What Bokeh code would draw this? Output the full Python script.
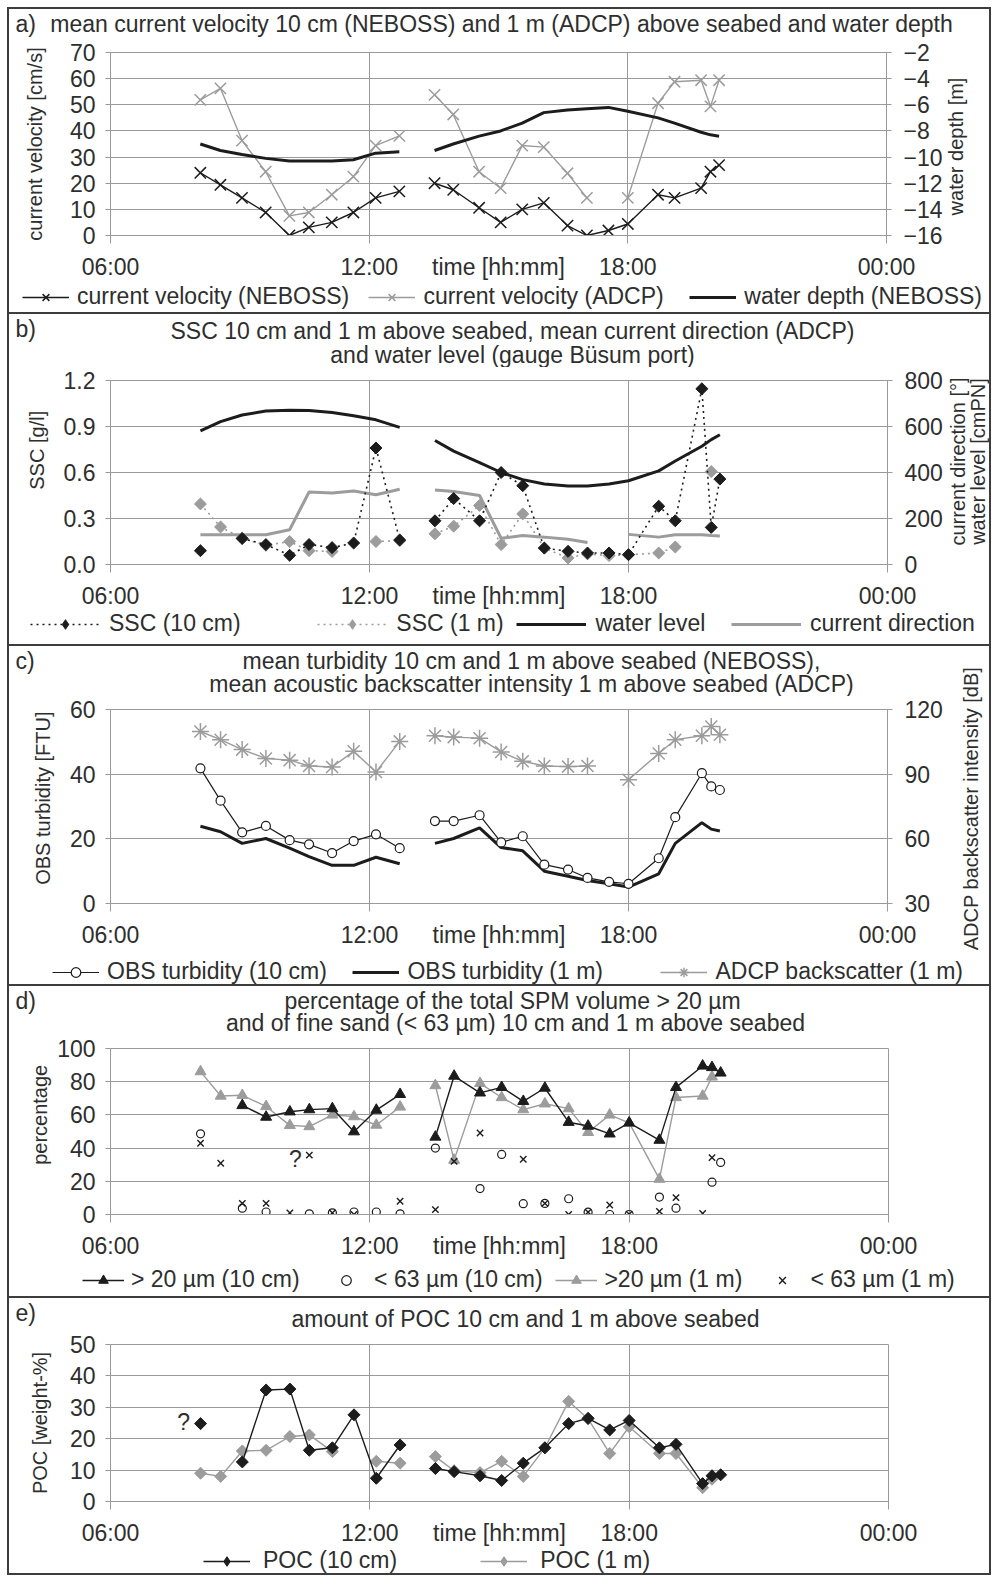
import numpy as np
from bokeh.plotting import figure
from bokeh.models import (Range1d, LinearAxis, FixedTicker, Label, Legend,
                          LegendItem, NumeralTickFormatter, Spacer)
from bokeh.layouts import column, row
from bokeh.embed import file_html
from bokeh.resources import INLINE

FONT = "Liberation Sans"
TXT = "#2e2e2e"
GRID = "#9a9a9a"
BLK = "#1c1c1c"
GRY = "#9c9c9c"
DARK = "#3d3d3d"
FS = "23px"
FS_AX = "20px"
NB = "\u00a0"

# ---------------- data ----------------
T1 = ["08:05", "08:33", "09:03", "09:36", "10:09", "10:36", "11:08", "11:38", "12:09", "12:42"]
T2 = ["13:31", "13:57", "14:33", "15:03", "15:33", "16:03", "16:36", "17:03", "17:33", "18:00",
      "18:42", "19:05", "19:42", "19:55", "20:07"]
x_ticks = [6, 12, 18, 24]
x_tick_labels = ["06:00", "12:00", "18:00", "00:00"]
x_title = "time [hh:mm]"

# a) current velocity [cm/s] and water depth [m]
vel_neboss_1 = [24, 19.4, 14.4, 8.8, 0, 3.1, 5, 8.8, 14.4, 16.9]
vel_neboss_2 = [20, 17.5, 10.6, 5, 10, 12.5, 3.8, 0, 1.9, 4.4, 15.6, 14.4, 18.1, 24.4, 26.9]
vel_adcp_1 = [51.9, 56.3, 36.3, 24.4, 7.5, 8.8, 15.6, 22.5, 34.4, 38.1]
vel_adcp_2 = [53.8, 46.3, 24.4, 18.1, 34.4, 33.8, 23.8, 14.4, None, 14.4, 50.6, 58.8, 59.4, 49.4, 59.4]
depth_1 = [-9.0, -9.5, -9.8, -10.1, -10.3, -10.3, -10.3, -10.2, -9.7, -9.6]
depth_2 = [-9.5, -9.0, -8.4, -8.0, -7.4, -6.6, -6.4, -6.3, -6.2, -6.5, -7.0, -7.4, -8.1, -8.3, -8.4]

# b) SSC [g/l], water level [cmPN], current direction [deg]
ssc10_1 = [0.09, None, 0.17, 0.13, 0.06, 0.13, 0.11, 0.14, 0.76, 0.16]
ssc10_2 = [0.285, 0.43, 0.285, 0.6, 0.514, 0.107, 0.086, 0.075, 0.075, 0.064, 0.38, 0.285, 1.146, 0.242, 0.557]
ssc1_1 = [0.395, 0.245, 0.17, 0.125, 0.15, 0.09, 0.085, None, 0.15, 0.155]
ssc1_2 = [0.2, 0.25, 0.385, 0.13, 0.33, 0.107, 0.043, 0.069, 0.058, 0.064, 0.075, 0.114, None, 0.606, None]
wlevel_1 = [581, 621, 650, 667, 671, 670, 661, 647, 629, 596]
wlevel_2 = [539, 493, 443, 400, 369, 350, 341, 341, 350, 364, 407, 450, 514, 543, 564]
cdir_1 = [129, 129, 129, 129, 151, 315, 311, 320, 303, 327]
cdir_2 = [324, 317, 300, 114, 126, 119, 110, 96, None, 131, 119, 129, 129, 126, 124]

# c) OBS turbidity [FTU], ADCP backscatter [dB]
obs10_1 = [41.8, 31.8, 22.0, 24.0, 19.6, 18.3, 15.6, 19.3, 21.4, 17.1]
obs10_2 = [25.5, 25.5, 27.3, 18.9, 20.8, 12.0, 10.5, 7.9, 6.7, 6.1, 14.0, 26.7, 40.3, 36.2, 35.1]
obs1_1 = [23.9, 22.2, 18.6, 20.1, 17.1, 14.5, 11.8, 11.8, 14.3, 12.3]
obs1_2 = [18.6, 20.1, 23.4, 17.3, 16.3, 10.0, 8.4, 7.1, 6.1, 5.1, 9.2, 18.6, 25.0, 23.0, 22.4]
bs_1 = [109.8, 106.0, 101.4, 97.3, 96.5, 93.8, 93.3, 100.6, 91.0, 105.2]
bs_2 = [107.8, 107.2, 106.7, 100.3, 96.0, 93.8, 93.5, 93.8, None, 87.4, 99.6, 106.0, 107.8, 112.1, 108.3]

# d) percentages
gt20_10_1 = [None, None, 65.7, 58.7, 61.9, 63.2, 63.8, 49.9, 62.9, 72.4]
gt20_10_2 = [46.7, 83.4, 73.3, 76.6, 68.2, 76.2, 55.6, 53.3, 48.6, 55.2, 44.8, 76.6, 89.5, 88.6, 85.3]
gt20_1_1 = [86.1, 71.4, 71.8, 65.1, 53.7, 53.0, 60.0, 59.0, 53.9, 64.8]
gt20_1_2 = [77.7, 32.8, 79.0, 70.5, 63.2, 66.7, 63.8, 49.5, 60.0, 55.2, 21.3, 70.5, 71.4, 82.9, None]
lt63_10_1 = [48.6, None, 3.8, 1.5, None, 0.4, 1.0, 1.5, 1.5, 0.4]
lt63_10_2 = [40, None, 15.6, 36.2, 6.5, 6.7, 9.5, 1.4, 0, 0, 10.5, 3.8, None, 19.5, 31.4]
lt63_1_1 = [42.9, 30.9, 6.7, 6.7, 1.0, 35.8, 1.0, 0, None, 8.0]
lt63_1_2 = [2.9, 32, 49.1, None, 33.3, 6.7, 0, 1.4, 5.7, 0.2, 1.9, 10.2, 0.6, 34.3, None]

# e) POC [weight-%]
poc10_1 = [24.8, None, 12.6, 35.5, 35.8, 16.3, 17.1, 27.6, 7.4, 18.0]
poc10_2 = [10.5, 9.5, 8.2, 6.7, 12.2, 17.1, 24.8, 26.5, 22.8, 25.8, 17.1, 18.2, 5.7, 8.2, 8.5]
poc1_1 = [9.0, 8.0, 16.1, 16.3, 20.7, 21.2, 15.9, None, 12.8, 12.2]
poc1_2 = [14.3, 9.8, 9.2, 12.8, 8.0, 17.1, 31.9, 26.3, 15.3, 23.8, 15.3, 15.3, 4.4, 7.1, None]


def hrs(t):
    h, m = t.split(":")
    return int(h) + int(m) / 60.0


X = np.array([hrs(t) for t in T1] + [13.1] + [hrs(t) for t in T2], dtype=float)


def ser(a, b):
    vals = list(a) + [None] + list(b)
    return np.array([np.nan if v is None else v for v in vals], dtype=float)


FIG_X0 = 9     # page x of the figures' left edge
FRAME_L = 110  # page x of the plot-area left edge
FRAME_R = 888  # page x of the plot-area right edge
FIG_W = 980
RT_X0 = 945    # page x where the right-title strip starts
RT_W = FIG_X0 + FIG_W - RT_X0
DIA = np.pi / 4
TOP = 13
WHITE = {"background-color": "white"}


def style_axis(ax, ticks, side):
    ax.ticker = FixedTicker(ticks=ticks)
    ax.axis_line_color = GRID
    ax.major_tick_line_color = GRID
    ax.minor_tick_line_color = None
    ax.major_tick_in = 0
    ax.major_tick_out = 5
    ax.major_label_text_font = FONT
    ax.major_label_text_font_size = FS
    ax.major_label_text_color = TXT
    ax.major_label_standoff = 10 if side == "left" else 12
    ax.axis_label_text_font = FONT
    ax.axis_label_text_font_size = FS_AX
    ax.axis_label_text_font_style = "normal"
    ax.axis_label_text_color = TXT


def chart(frame_h, y0, y1, yticks, ylabel, ylabel_standoff, narrow=False, bot=44):
    w = RT_X0 - FIG_X0 if narrow else FIG_W
    right = (RT_X0 - FRAME_R) if narrow else (FIG_X0 + FIG_W - FRAME_R)
    p = figure(width=w, height=TOP + frame_h + bot, title=None,
               x_range=Range1d(6, 24), y_range=Range1d(y0, y1),
               output_backend="svg", toolbar_location=None, frame_align=False,
               min_border_left=FRAME_L - FIG_X0, min_border_right=right,
               min_border_top=TOP, min_border_bottom=bot,
               background_fill_color="white", border_fill_color="white",
               outline_line_color=GRID, outline_line_width=1)
    xa = p.xaxis[0]
    xa.ticker = FixedTicker(ticks=x_ticks[:2] + [15] + x_ticks[2:], minor_ticks=x_ticks)
    ov = {t: s for t, s in zip(x_ticks, x_tick_labels)}
    ov[15] = x_title
    xa.major_label_overrides = ov
    xa.axis_line_color = GRID
    xa.major_tick_line_color = None
    xa.major_tick_in = 0
    xa.major_tick_out = 0
    xa.minor_tick_line_color = GRID
    xa.minor_tick_in = 0
    xa.minor_tick_out = 8
    xa.major_label_text_font = FONT
    xa.major_label_text_font_size = FS
    xa.major_label_text_color = TXT
    xa.major_label_standoff = 10
    ya = p.yaxis[0]
    style_axis(ya, yticks, "left")
    ya.axis_label = ylabel
    ya.axis_label_standoff = ylabel_standoff
    p.xgrid.ticker = FixedTicker(ticks=[12, 18])
    p.xgrid.grid_line_color = GRID
    p.ygrid.ticker = FixedTicker(ticks=yticks)
    p.ygrid.grid_line_color = GRID
    return p


def right_axis(p, y0, y1, ticks):
    p.extra_y_ranges = {"r": Range1d(y0, y1)}
    ax = LinearAxis(y_range_name="r")
    style_axis(ax, ticks, "right")
    p.add_layout(ax, "right")


def blank(H, W=FIG_W):
    p = figure(width=W, height=H, title=None, x_range=Range1d(0, W),
               y_range=Range1d(H, 0), x_axis_type=None, y_axis_type=None,
               output_backend="svg", toolbar_location=None, frame_align=False,
               min_border_left=0, min_border_right=0, min_border_top=0, min_border_bottom=0,
               background_fill_color="white", border_fill_color="white",
               outline_line_color=None)
    return p


def head(H, top_page, texts, W=FIG_W):
    p = blank(H, W)
    for text, px, py, align in texts:
        p.add_layout(Label(x=px - FIG_X0, y=py - top_page, text=text, text_align=align,
                           text_baseline="middle", text_font=FONT, text_font_size=FS,
                           text_color=TXT))
    return p


def right_title(H, top_page, texts):
    p = blank(H, RT_W)
    for text, px, py in texts:
        p.add_layout(Label(x=px - RT_X0, y=py - top_page, text=text, text_align="center",
                           text_baseline="middle", angle=np.pi / 2, text_font=FONT,
                           text_font_size=FS_AX, text_color=TXT))
    return p


def legend_fig(H, center, gx, gw, standoff, entries):
    p = blank(H)
    items = []
    for lab, parts in entries:
        rends = []
        for kind, kw in parts:
            if kind == "line":
                rends.append(p.line([-60, -50], [-60, -60], **kw))
            else:
                rends.append(p.scatter([-60], [-60], **kw))
        items.append(LegendItem(label=lab, renderers=rends))
    hl = 26
    L = Legend(items=items, location=(gx - FIG_X0, H - center - hl / 2.0),
               orientation="horizontal", glyph_width=gw, glyph_height=24, label_height=24,
               label_standoff=standoff, padding=0, margin=0, spacing=0,
               border_line_color=None, background_fill_alpha=0,
               label_text_font=FONT, label_text_font_size=FS, label_text_color=TXT)
    p.add_layout(L)
    return p


def L_(color, width, dash="solid"):
    return ("line", dict(line_color=color, line_width=width, line_dash=dash))


def M_(marker, size, color, fill, lw=1.3, angle=0.0):
    return ("mark", dict(marker=marker, size=size, line_color=color, fill_color=fill,
                         line_width=lw, angle=angle))


def line(p, y, color, width, dash="solid", rng="default"):
    return p.line(X, y, line_color=color, line_width=width, line_dash=dash, y_range_name=rng)


def mark(p, y, marker, size, color, fill, lw=1.3, angle=0.0, rng="default"):
    return p.scatter(X, y, marker=marker, size=size, line_color=color, fill_color=fill,
                     line_width=lw, angle=angle, y_range_name=rng)


def qmark(p, x, y, dx, dy):
    p.add_layout(Label(x=x, y=y, x_offset=dx, y_offset=dy, text="?",
                       text_align="center", text_baseline="middle", text_font=FONT,
                       text_font_size=FS, text_color=TXT))


# ---------------- panel a (page y 9..312) ----------------
ha = head(30, 9, [("a)", 15, 23, "left"),
                  ("mean current velocity 10 cm (NEBOSS) and 1 m (ADCP) above seabed and water depth", 501, 23, "center")])
pa = chart(186, 0, 70, list(range(0, 71, 10)), "current velocity [cm/s]", 21, narrow=True)
right_axis(pa, -16, -2, list(range(-16, -1, 2)))
line(pa, ser(vel_adcp_1, vel_adcp_2), GRY, 1.4)
mark(pa, ser(vel_adcp_1, vel_adcp_2), "x", 16, GRY, None, 1.5)
line(pa, ser(depth_1, depth_2), BLK, 3, rng="r")
line(pa, ser(vel_neboss_1, vel_neboss_2), BLK, 1.4)
mark(pa, ser(vel_neboss_1, vel_neboss_2), "x", 16, BLK, None, 1.5)
ra = right_title(pa.height, 39, [("water depth [m]", 955, 146)])
la = legend_fig(30, 15, 22, 47, 8, [
    ("current velocity (NEBOSS)" + NB * 3, [L_(BLK, 1.4), M_("x", 14, BLK, None, 1.5)]),
    ("current velocity (ADCP)" + NB * 4, [L_(GRY, 1.4), M_("x", 14, GRY, None, 1.5)]),
    ("water depth (NEBOSS)", [L_(BLK, 3)])])
panel_a = column(ha, row(pa, ra, spacing=0, styles=WHITE), la, spacing=0, styles=WHITE)

# ---------------- panel b (page y 314..644) ----------------
hb = head(53, 314, [("b)", 15, 328, "left"),
                    ("SSC 10 cm and 1 m above seabed, mean current direction (ADCP)", 512, 330, "center"),
                    ("and water level (gauge Büsum port)", 512, 354, "center")])
pb = chart(187, 0, 1.2, [0, 0.3, 0.6, 0.9, 1.2], NB * 8 + "SSC [g/l]", 13, narrow=True)
pb.yaxis[0].formatter = NumeralTickFormatter(format="0.0")
right_axis(pb, 0, 800, [0, 200, 400, 600, 800])
line(pb, ser(cdir_1, cdir_2), GRY, 3, rng="r")
line(pb, ser(wlevel_1, wlevel_2), BLK, 3, rng="r")
line(pb, ser(ssc1_1, ssc1_2), GRY, 1.6, "2 4")
mark(pb, ser(ssc1_1, ssc1_2), "square", 8.5, GRY, GRY, 1, DIA)
line(pb, ser(ssc10_1, ssc10_2), BLK, 1.6, "2 4")
mark(pb, ser(ssc10_1, ssc10_2), "square", 8.5, BLK, BLK, 1, DIA)
rb = right_title(pb.height, 367, [("current direction [°]", 957, 461),
                                  ("water level [cmPN]", 977, 461)])
lb = legend_fig(33, 13, 30, 70, 9, [
    ("SSC (10 cm)" + NB * 12, [L_(BLK, 1.6, "2 4"), M_("diamond", 13, BLK, BLK, 1)]),
    ("SSC (1 m)" + NB * 2, [L_(GRY, 1.6, "2 4"), M_("diamond", 13, GRY, GRY, 1)]),
    ("water level" + NB * 4, [L_(BLK, 3)]),
    ("current direction", [L_(GRY, 3)])])
panel_b = column(hb, row(pb, rb, spacing=0, styles=WHITE), lb, spacing=0, styles=WHITE)

# ---------------- panel c (page y 646..984) ----------------
hc = head(50, 646, [("c)", 15, 660, "left"),
                    ("mean turbidity 10 cm and 1 m above seabed (NEBOSS),", 531, 660, "center"),
                    ("mean acoustic backscatter intensity 1 m above seabed (ADCP)", 531, 683, "center")],
          W=RT_X0 - FIG_X0)
pc = chart(197, 0, 60, [0, 20, 40, 60], NB * 3 + "OBS turbidity [FTU]", 13, narrow=True)
right_axis(pc, 30, 120, [30, 60, 90, 120])
line(pc, ser(bs_1, bs_2), GRY, 1.4, rng="r")
mark(pc, ser(bs_1, bs_2), "asterisk", 17, GRY, None, 1.5, rng="r")
line(pc, ser(obs1_1, obs1_2), BLK, 3)
line(pc, ser(obs10_1, obs10_2), BLK, 1.2)
mark(pc, ser(obs10_1, obs10_2), "circle", 9, BLK, "white", 1.2)
rc = right_title(hc.height + pc.height, 646, [("ADCP backscatter intensity [dB]", 970, 808)])
lc = legend_fig(34, 22, 52, 47, 8, [
    ("OBS turbidity (10 cm)" + NB * 4, [L_(BLK, 1.2), M_("circle", 9, BLK, "white", 1.2)]),
    ("OBS turbidity (1 m)" + NB * 9, [L_(BLK, 3)]),
    ("ADCP backscatter (1 m)", [L_(GRY, 1.4), M_("asterisk", 14, GRY, None, 1.5)])])
panel_c = column(row(column(hc, pc, spacing=0, styles=WHITE), rc, spacing=0, styles=WHITE),
                 lc, spacing=0, styles=WHITE)

# ---------------- panel d (page y 986..1296) ----------------
hd = head(49, 986, [("d)", 15, 1000, "left"),
                    ("percentage of the total SPM volume > 20 µm", 512, 1000, "center"),
                    ("and of fine sand (< 63 µm) 10 cm and 1 m above seabed", 515, 1022, "center")])
pdd = chart(169, 0, 100, [0, 20, 40, 60, 80, 100], NB * 6 + "percentage", 3)
line(pdd, ser(gt20_1_1, gt20_1_2), GRY, 1.4)
mark(pdd, ser(gt20_1_1, gt20_1_2), "triangle", 11, GRY, GRY, 1)
line(pdd, ser(gt20_10_1, gt20_10_2), BLK, 1.4)
mark(pdd, ser(gt20_10_1, gt20_10_2), "triangle", 11, BLK, BLK, 1)
mark(pdd, ser(lt63_10_1, lt63_10_2), "circle", 8, BLK, None, 1.2)
mark(pdd, ser(lt63_1_1, lt63_1_2), "x", 9, BLK, None, 1.4)
qmark(pdd, hrs("10:36"), 35.8, -14, -4)
ld = legend_fig(35, 19, 82, 42, 7, [
    ("> 20 µm (10 cm)" + NB * 4, [L_(BLK, 1.4), M_("triangle", 11, BLK, BLK, 1)]),
    ("< 63 µm (10 cm)" + NB * 2, [M_("circle", 8, BLK, None, 1.2)]),
    (">20 µm (1 m)" + NB * 3, [L_(GRY, 1.4), M_("triangle", 11, GRY, GRY, 1)]),
    ("< 63 µm (1 m)", [M_("x", 9, BLK, None, 1.4)])])
panel_d = column(hd, pdd, ld, spacing=0, styles=WHITE)

# ---------------- panel e (page y 1298..1573) ----------------
he = head(33, 1298, [("e)", 15, 1312, "left"),
                     ("amount of POC 10 cm and 1 m above seabed", 525, 1318, "center")])
pe = chart(160, 0, 50, [0, 10, 20, 30, 40, 50], "POC [weight-%]", 16)
line(pe, ser(poc1_1, poc1_2), GRY, 1.4)
mark(pe, ser(poc1_1, poc1_2), "square", 8.5, GRY, GRY, 1, DIA)
line(pe, ser(poc10_1, poc10_2), BLK, 1.4)
mark(pe, ser(poc10_1, poc10_2), "square", 8.5, BLK, BLK, 1, DIA)
qmark(pe, hrs("08:05"), 24.8, -17, 2)
le = legend_fig(25, 13, 203, 47, 13, [
    ("POC (10 cm)" + NB * 13, [L_(BLK, 1.4), M_("diamond", 13, BLK, BLK, 1)]),
    ("POC (1 m)", [L_(GRY, 1.4), M_("diamond", 13, GRY, GRY, 1)])])
panel_e = column(he, pe, le, spacing=0, styles=WHITE)


def boxed(panel):
    return row(Spacer(width=2, height=2), panel, Spacer(width=2, height=2), spacing=0)


inner = column(Spacer(width=2, height=0), boxed(panel_a), boxed(panel_b),
               boxed(panel_c), boxed(panel_d), boxed(panel_e),
               Spacer(width=2, height=0), spacing=2,
               styles={"background-color": DARK})
layout = column(Spacer(width=2, height=7), row(Spacer(width=7, height=2), inner))

open("out.html", "w").write(file_html(layout, INLINE))
